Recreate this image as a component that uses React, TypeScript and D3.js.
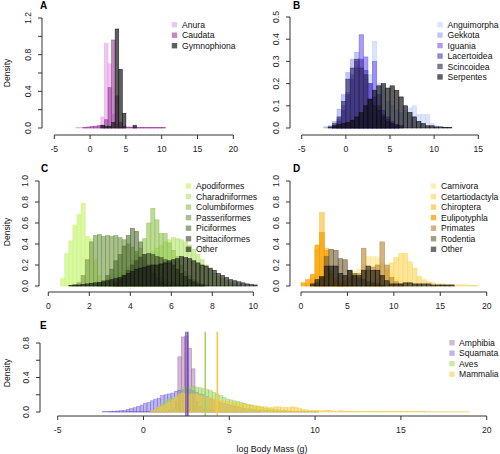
import React from "react";
import * as d3 from "d3";

// ---------- DATA ----------
// Panel A (Amphibia orders), bin width 0.5
const anuraStart = -2.0;
const anuraDensity = [0.005,0.005,0.005,0.01,0.01,0.015,0.02,0.12,0.92,0.70,0.15,0.04,0.02,0.01,0.01,0.008,0.006,0.005,0.004,0.003,0.003,0.002,0.002,0.002,0.002];
const caudataStart = -1.0;
const caudataDensity = [0.005,0.01,0.015,0.02,0.025,0.03,0.09,0.44,0.96,0.35,0.06,0.02,0.01,0.01,0.01,0.005,0.005,0.005,0.005,0.005,0.005,0.005,0.005];
const gymnoStart = 1.5;
const gymnoDensity = [0.03,0.02,0.02,0.06,1.08,0.64,0.16,0,0,0.03];

// Panel B (Squamata), bin width 0.5
const anguiStart = -0.5;
const anguiDensity = [0.01,0.02,0.04,0.08,0.12,0.2,0.24,0.39,0.2,0.17,0.12,0.1,0.08,0.07,0.08,0.09,0.1,0.06,0.06,0.06,0.02,0.01];
const gekkoStart = -2.5;
const gekkoDensity = [0.005,0.01,0.03,0.085,0.15,0.25,0.31,0.34,0.3,0.22,0.1,0.06,0.03,0.01];
const iguaStart = -1.0;
const iguaDensity = [0.04,0.1,0.16,0.24,0.3,0.42,0.32,0.2,0.3,0.15,0.08,0.05,0.03,0.01];
const lacerStart = -1.5;
const lacerDensity = [0.01,0.03,0.08,0.15,0.22,0.27,0.31,0.26,0.2,0.14,0.1,0.06,0.04,0.02,0.01];
const scincStart = -1.5;
const scincDensity = [0.02,0.05,0.12,0.22,0.27,0.31,0.27,0.24,0.13,0.1,0.08,0.05,0.03,0.02,0.015,0.01];
const serpStart = -2.0;
const serpDensity = [0.005,0.01,0.015,0.02,0.025,0.035,0.05,0.07,0.1,0.13,0.17,0.19,0.2,0.18,0.19,0.17,0.14,0.1,0.07,0.05,0.03,0.02,0.01,0.01,0.005,0.005,0.003,0.002];

// Panel C (Aves), bin width 0.2
const apodStart = 0.6;
const apodDensity = [0.07,0.31,0.43,0.58,0.68,0.79,0.47,0.45,0.25,0.1,0.04,0.02,0.01];
const charStart = 1.8;
const charDensity = [0.01,0.02,0.03,0.04,0.05,0.07,0.09,0.11,0.13,0.15,0.17,0.2,0.22,0.25,0.28,0.3,0.33,0.36,0.39,0.42,0.44,0.46,0.45,0.44,0.42,0.39,0.35,0.3,0.25,0.2,0.16,0.12,0.09,0.07,0.05,0.03,0.02,0.01];
const columStart = 3.0;
const columDensity = [0.02,0.04,0.08,0.12,0.18,0.25,0.3,0.36,0.45,0.6,0.74,0.63,0.5,0.5,0.41,0.34,0.28,0.2,0.14,0.1,0.06,0.04,0.02,0.01];
const passStart = 1.2;
const passDensity = [0.01,0.03,0.1,0.25,0.42,0.48,0.49,0.47,0.48,0.47,0.48,0.46,0.44,0.4,0.37,0.33,0.28,0.24,0.2,0.15,0.11,0.08,0.06,0.04,0.03,0.02,0.01,0.01];
const piciStart = 2.4;
const piciDensity = [0.02,0.05,0.1,0.16,0.24,0.3,0.38,0.48,0.55,0.52,0.42,0.3,0.2,0.12,0.07,0.04,0.02,0.01];
const psitStart = 3.2;
const psitDensity = [0.03,0.06,0.1,0.15,0.2,0.24,0.27,0.3,0.31,0.3,0.28,0.27,0.25,0.22,0.2,0.16,0.12,0.09,0.06,0.04,0.02,0.01];
const birdOtherStart = 1.0;
const birdOtherDensity = [0.005,0.01,0.01,0.015,0.02,0.025,0.03,0.035,0.04,0.05,0.06,0.07,0.08,0.1,0.12,0.14,0.16,0.17,0.18,0.19,0.2,0.2,0.21,0.22,0.24,0.25,0.26,0.28,0.27,0.26,0.24,0.22,0.2,0.19,0.17,0.15,0.12,0.1,0.08,0.06,0.05,0.04,0.03,0.02,0.015,0.01];

// Panel D (Mammalia), bin width 0.5
const carnStart = 1.5;
const carnDensity = [0.02,0.03,0.04,0.05,0.06,0.08,0.1,0.12,0.14,0.16,0.2,0.28,0.28,0.27,0.22,0.17,0.12,0.08,0.05,0.03,0.02,0.01,0.01];
const cetStart = 7.0;
const cetDensity = [0.02,0.04,0.06,0.1,0.15,0.22,0.27,0.31,0.31,0.23,0.17,0.09,0.06,0.04,0.03,0.02,0.02,0.01,0.01,0.01,0.01,0.01,0.005,0.005];
const chirStart = 0.5;
const chirDensity = [0.02,0.08,0.35,0.7,0.36,0.15,0.08,0.04,0.02,0.01];
const euliStart = 0.0;
const euliDensity = [0.03,0.06,0.11,0.39,0.51,0.34,0.12,0.05,0.02];
const primStart = 4.0;
const primDensity = [0.02,0.05,0.08,0.1,0.12,0.36,0.15,0.18,0.2,0.42,0.2,0.08,0.04,0.02];
const rodStart = 1.5;
const rodDensity = [0.03,0.08,0.28,0.35,0.34,0.26,0.25,0.15,0.12,0.08,0.06,0.04,0.03,0.02,0.01];
const mamOtherStart = 1.0;
const mamOtherDensity = [0.02,0.06,0.09,0.19,0.19,0.19,0.12,0.1,0.15,0.1,0.1,0.15,0.19,0.15,0.15,0.1,0.05,0.02,0.02,0.02,0.03,0.03,0.02,0.02,0.02,0.02,0.01,0.01,0.01,0.01,0.01];

// Panel E (classes), bin width 0.2
const amphStart = -2.0;
const amphDensity = [0.002,0.002,0.003,0.003,0.003,0.004,0.004,0.005,0.005,0.006,0.006,0.007,0.008,0.008,0.009,
  0.01,0.01,0.02,0.03,0.12,0.64,0.87,0.88,0.74,0.5,0.12,0.06,0.04,0.03,0.02,0.015,0.01,0.008,0.005,
  0.004,0.004,0.003,0.003,0.003,0.002,0.002,0.002,0.002,0.002];
const squaStart = -2.4;
const squaDensity = [0.005,0.005,0.008,0.01,0.012,0.015,0.02,0.03,0.04,0.05,0.065,0.08,0.1,0.11,0.13,0.15,0.16,0.19,0.2,0.21,0.22,0.24,0.25,0.26,0.27,0.26,0.25,0.23,0.21,0.2,0.18,0.16,0.14,0.12,0.11,0.1,0.09,0.08,0.07,0.06,0.05,0.04,0.035,0.03,0.025,0.02,0.02,0.015,0.015,0.012,0.01,0.008,0.006,0.005,0.005,0.004,0.004,0.003,0.003,0.003,0.002,0.002,0.002];
const avesStart = 0.6;
const avesDensity = [0.02,0.05,0.1,0.13,0.15,0.16,0.17,0.22,0.28,0.3,0.29,0.3,0.29,0.28,0.27,0.26,0.25,0.23,0.21,0.19,0.17,0.15,0.14,0.13,0.12,0.11,0.1,0.09,0.08,0.07,0.06,0.05,0.045,0.04,0.035,0.03,0.025,0.02,0.015,0.012,0.01,0.008,0.006,0.005,0.004,0.003,0.002,0.002];
const mammStart = 0.4;
const mammDensity = [0.01,0.03,0.05,0.07,0.09,0.11,0.14,0.17,0.2,0.22,
  0.21,0.2,0.21,0.2,0.19,0.18,0.17,0.16,0.15,0.14,
  0.13,0.12,0.12,0.11,0.11,0.1,0.1,0.09,0.08,0.08,
  0.07,0.07,0.06,0.06,0.05,0.05,0.06,0.06,0.05,0.05,
  0.05,0.06,0.05,0.04,0.03,0.025,0.02,0.02,0.02,0.015,
  0.015,0.02,0.015,0.01,0.01,0.015,0.01,0.01,0.008,0.008,
  0.008,0.007,0.007,0.006,0.006,0.006,0.005,0.005,0.005,0.005,
  0.005,0.005,0.004,0.004,0.004,0.004,0.004,0.004,0.004,0.004,
  0.003,0.003,0.003,0.003,0.003,0.003,0.003,0.003,0.003,0.003,0.003,0.003,0.003];
const classMedians = [2.47, 2.58, 3.6, 4.3]; // Amphibia, Squamata, Aves, Mammalia

// ---------- STYLE / LAYOUT ----------
const FONT = "'Liberation Sans', Arial, Helvetica, sans-serif";

interface Series { name: string; start: number; bin: number; values: number[]; fill: string; stroke: string; legend: string; }
interface PanelCfg {
  label: string; labelX: number; labelY: number;
  xDomain: [number, number]; xRange: [number, number];
  yDomain: [number, number]; yRange: [number, number];
  axisX: number; axisY: number;
  xTicks: number[]; yTicks: number[]; yLabelStep: number;
  series: Series[];
  legend: { sx: number; tx: number; y0: number; dy: number };
  clip?: [number, number];
  medians?: { value: number; color: string }[];
}

const mk = (name: string, start: number, bin: number, values: number[], rgb: string, a: number): Series => ({
  name, start, bin, values,
  fill: `rgba(${rgb},${a})`,
  stroke: `rgba(${rgb},${Math.min(1, a + 0.2)})`,
  legend: `rgba(${rgb},${a})`,
});

const panels: PanelCfg[] = [
  {
    label: "A", labelX: 40, labelY: 9,
    xDomain: [-5, 20], xRange: [54.3, 233.3], yDomain: [0, 1.2], yRange: [128, 18],
    axisX: 42, axisY: 135,
    xTicks: d3.range(-5, 20.01, 5), yTicks: d3.range(0, 1.201, 0.2), yLabelStep: 2,
    series: [
      mk("Anura", anuraStart, 0.5, anuraDensity, "230,160,230", 0.6),
      mk("Caudata", caudataStart, 0.5, caudataDensity, "150,60,150", 0.6),
      mk("Gymnophiona", gymnoStart, 0.5, gymnoDensity, "25,25,25", 0.7),
    ],
    legend: { sx: 174.5, tx: 182, y0: 24.7, dy: 10.5 },
  },
  {
    label: "B", labelX: 293, labelY: 9,
    xDomain: [-5, 15], xRange: [301.7, 478.3], yDomain: [0, 0.5], yRange: [128, 17],
    axisX: 290, axisY: 135,
    xTicks: d3.range(-5, 15.01, 5), yTicks: d3.range(0, 0.501, 0.1), yLabelStep: 1,
    series: [
      mk("Anguimorpha", anguiStart, 0.5, anguiDensity, "195,210,250", 0.6),
      mk("Gekkota", gekkoStart, 0.5, gekkoDensity, "150,160,245", 0.6),
      mk("Iguania", iguaStart, 0.5, iguaDensity, "110,90,235", 0.6),
      mk("Lacertoidea", lacerStart, 0.5, lacerDensity, "80,60,185", 0.62),
      mk("Scincoidea", scincStart, 0.5, scincDensity, "45,40,85", 0.62),
      mk("Serpentes", serpStart, 0.5, serpDensity, "10,10,15", 0.65),
    ],
    legend: { sx: 440, tx: 447.5, y0: 24.7, dy: 10.45 },
  },
  {
    label: "C", labelX: 41, labelY: 172,
    xDomain: [0, 10], xRange: [48.3, 253.3], yDomain: [0, 1], yRange: [286, 181],
    axisX: 39, axisY: 292,
    xTicks: d3.range(0, 10.01, 2), yTicks: d3.range(0, 1.001, 0.2), yLabelStep: 1,
    series: [
      mk("Apodiformes", apodStart, 0.2, apodDensity, "205,245,130", 0.75),
      mk("Charadriiformes", charStart, 0.2, charDensity, "180,225,110", 0.6),
      mk("Columbiformes", columStart, 0.2, columDensity, "145,195,80", 0.6),
      mk("Passeriformes", passStart, 0.2, passDensity, "115,150,70", 0.6),
      mk("Piciformes", piciStart, 0.2, piciDensity, "80,110,50", 0.6),
      mk("Psittaciformes", psitStart, 0.2, psitDensity, "55,70,40", 0.6),
      mk("Other", birdOtherStart, 0.2, birdOtherDensity, "15,15,15", 0.6),
    ],
    legend: { sx: 188.5, tx: 196, y0: 186, dy: 10.55 },
  },
  {
    label: "D", labelX: 293, labelY: 172,
    xDomain: [0, 20], xRange: [301, 486.7], yDomain: [0, 1], yRange: [286, 181],
    axisX: 290, axisY: 292,
    xTicks: d3.range(0, 20.01, 5), yTicks: d3.range(0, 1.001, 0.2), yLabelStep: 1,
    series: [
      mk("Carnivora", carnStart, 0.5, carnDensity, "255,232,150", 0.7),
      mk("Cetartiodactyla", cetStart, 0.5, cetDensity, "253,215,100", 0.65),
      mk("Chiroptera", chirStart, 0.5, chirDensity, "250,190,60", 0.65),
      mk("Eulipotyphla", euliStart, 0.5, euliDensity, "245,160,0", 0.75),
      mk("Primates", primStart, 0.5, primDensity, "180,130,50", 0.6),
      mk("Rodentia", rodStart, 0.5, rodDensity, "110,90,50", 0.6),
      mk("Other", mamOtherStart, 0.5, mamOtherDensity, "15,15,15", 0.6),
    ],
    legend: { sx: 433.5, tx: 441, y0: 186, dy: 10.55 },
  },
  {
    label: "E", labelX: 40, labelY: 329,
    xDomain: [-5, 20], xRange: [57.7, 486.7], yDomain: [0, 0.8], yRange: [412, 343],
    axisX: 40, axisY: 416,
    xTicks: d3.range(-5, 20.01, 5), yTicks: d3.range(0, 0.801, 0.2), yLabelStep: 2,
    series: [
      mk("Amphibia", amphStart, 0.2, amphDensity, "160,100,160", 0.45),
      mk("Squamata", squaStart, 0.2, squaDensity, "110,95,220", 0.45),
      mk("Aves", avesStart, 0.2, avesDensity, "150,210,90", 0.5),
      mk("Mammalia", mammStart, 0.2, mammDensity, "250,200,60", 0.5),
    ],
    legend: { sx: 452, tx: 459, y0: 342.7, dy: 10.5 },
    clip: [331.5, 416],
    medians: [
      { value: classMedians[0], color: "rgba(150,90,160,0.95)" },
      { value: classMedians[1], color: "rgba(95,75,215,0.95)" },
      { value: classMedians[2], color: "rgba(160,210,100,1)" },
      { value: classMedians[3], color: "rgba(250,200,70,1)" },
    ],
  },
];

function Panel({ cfg, idx }: { cfg: PanelCfg; idx: number }) {
  const x = d3.scaleLinear().domain(cfg.xDomain).range(cfg.xRange);
  const y = d3.scaleLinear().domain(cfg.yDomain).range(cfg.yRange);
  const clipId = `clip-${idx}`;
  const axisColor = "#333";
  const tickLen = 4;
  return (
    <g>
      {cfg.clip && (
        <defs>
          <clipPath id={clipId}>
            <rect x={0} y={cfg.clip[0]} width={500} height={cfg.clip[1] - cfg.clip[0]} />
          </clipPath>
        </defs>
      )}
      <g clipPath={cfg.clip ? `url(#${clipId})` : undefined}>
        {cfg.series.map((s) => (
          <g key={s.name}>
            {s.values.map((v, i) => {
              if (v <= 0) return null;
              const x0 = x(s.start + i * s.bin);
              const x1 = x(s.start + (i + 1) * s.bin);
              return (
                <rect key={i} x={x0} y={y(v)} width={x1 - x0} height={y(0) - y(v)}
                  fill={s.fill} stroke={s.stroke} strokeWidth={0.6} />
              );
            })}
          </g>
        ))}
        {cfg.medians && cfg.medians.map((m, i) => (
          <line key={i} x1={x(m.value)} x2={x(m.value)} y1={cfg.clip![0]} y2={cfg.clip![1]}
            stroke={m.color} strokeWidth={1.6} />
        ))}
      </g>
      {/* x axis */}
      <line x1={x(cfg.xTicks[0])} x2={x(cfg.xTicks[cfg.xTicks.length - 1])} y1={cfg.axisY} y2={cfg.axisY} stroke={axisColor} strokeWidth={1} />
      {cfg.xTicks.map((t) => (
        <g key={t}>
          <line x1={x(t)} x2={x(t)} y1={cfg.axisY} y2={cfg.axisY + tickLen} stroke={axisColor} strokeWidth={1} />
          <text x={x(t)} y={cfg.axisY + 17} textAnchor="middle" fontSize={8.6} fontFamily={FONT} fill="#222">{String(Math.round(t))}</text>
        </g>
      ))}
      {/* y axis */}
      <line x1={cfg.axisX} x2={cfg.axisX} y1={y(cfg.yTicks[0])} y2={y(cfg.yTicks[cfg.yTicks.length - 1])} stroke={axisColor} strokeWidth={1} />
      {cfg.yTicks.map((t, i) => (
        <g key={i}>
          <line x1={cfg.axisX - tickLen} x2={cfg.axisX} y1={y(t)} y2={y(t)} stroke={axisColor} strokeWidth={1} />
          {i % cfg.yLabelStep === 0 && (
            <text transform={`translate(${cfg.axisX - 11},${y(t)}) rotate(-90)`} textAnchor="middle" fontSize={8.6} fontFamily={FONT} fill="#222">{t.toFixed(1)}</text>
          )}
        </g>
      ))}
      {/* panel label */}
      <text x={cfg.labelX} y={cfg.labelY} fontSize={10} fontWeight="bold" fontFamily={FONT} fill="#000">{cfg.label}</text>
      {/* legend */}
      {cfg.series.map((s, i) => {
        const cy = cfg.legend.y0 + i * cfg.legend.dy;
        return (
          <g key={s.name}>
            <rect x={cfg.legend.sx - 2.7} y={cy - 2.7} width={5.4} height={5.4} fill={s.legend} />
            <text x={cfg.legend.tx} y={cy + 3.1} fontSize={8.6} fontFamily={FONT} fill="#111">{s.name}</text>
          </g>
        );
      })}
    </g>
  );
}

export default function App() {
  return (
    <svg width={500} height={454} viewBox="0 0 500 454" style={{ position: "absolute", left: 0, top: 0, background: "#fff" }}>
      <rect x={0} y={0} width={500} height={454} fill="#fff" />
      {panels.map((p, i) => <Panel key={p.label} cfg={p} idx={i} />)}
      {[73, 232, 373].map((cy) => (
        <text key={cy} transform={`translate(10,${cy}) rotate(-90)`} textAnchor="middle" fontSize={8.6} fontFamily={FONT} fill="#111">Density</text>
      ))}
      <text x={272} y={452} textAnchor="middle" fontSize={8.8} fontFamily={FONT} fill="#111">log Body Mass (g)</text>
    </svg>
  );
}
